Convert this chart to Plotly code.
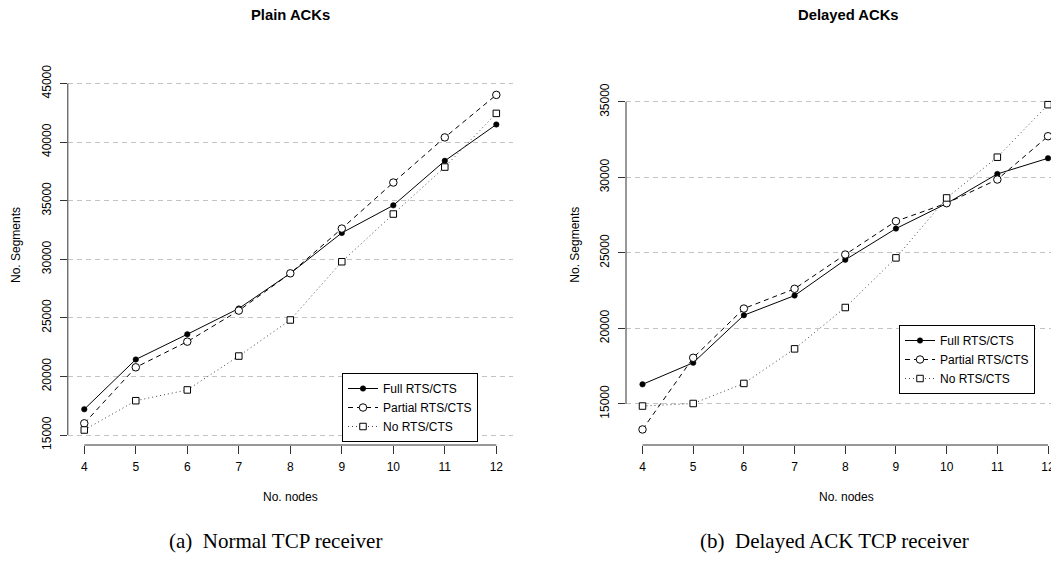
import plotly.graph_objects as go

# ---------------- data ----------------
nodes = [4, 5, 6, 7, 8, 9, 10, 11, 12]

plain_full = [17200, 21450, 23600, 25800, 28800, 32250, 34600, 38400, 41500]
plain_partial = [16000, 20780, 22970, 25620, 28800, 32620, 36550, 40400, 44030]
plain_none = [15430, 17930, 18850, 21740, 24820, 29790, 33860, 37870, 42450]

delayed_full = [16290, 17720, 20870, 22170, 24540, 26610, 28270, 30230, 31270]
delayed_partial = [13300, 18050, 21310, 22620, 24890, 27100, 28290, 29860, 32730]
delayed_none = [14850, 15020, 16350, 18640, 21380, 24670, 28640, 31340, 34820]

series_names = ["Full RTS/CTS", "Partial RTS/CTS", "No RTS/CTS"]
yticks_left = [15000, 20000, 25000, 30000, 35000, 40000, 45000]
yticks_right = [15000, 20000, 25000, 30000, 35000]

titles = ["Plain ACKs", "Delayed ACKs"]
xlabel = "No. nodes"
ylabel = "No. Segments"
captions = ["(a)  Normal TCP receiver", "(b)  Delayed ACK TCP receiver"]

# ---------------- layout helpers ----------------
OFF = 8                        # html body margin
VW, VH = 1059, 561             # browser window
W, H = VW - OFF, VH - 2 * OFF  # keep the page from overflowing vertically
SANS = "Liberation Sans, Arial, Helvetica, sans-serif"
SERIF = "Liberation Serif, Times New Roman, Times, serif"


def px(x):
    """window x pixel -> paper fraction"""
    return (x - OFF) / W


def py(y):
    """window y pixel -> paper fraction"""
    return 1 - (y - OFF) / H


styles = [
    dict(line=dict(color="black", width=1, dash="solid"),
         marker=dict(symbol="circle", size=5.5, color="black",
                     line=dict(color="black", width=0.5))),
    dict(line=dict(color="black", width=1, dash="5px,4px"),
         marker=dict(symbol="circle", size=7.5, color="white",
                     line=dict(color="black", width=1))),
    dict(line=dict(color="#444444", width=1, dash="1px,3px"),
         marker=dict(symbol="square", size=6.5, color="white",
                     line=dict(color="black", width=1))),
]

fig = go.Figure()

panels = [
    ([plain_full, plain_partial, plain_none], "x", "y", "legend"),
    ([delayed_full, delayed_partial, delayed_none], "x2", "y2", "legend2"),
]
for data, xa, ya, lg in panels:
    for name, vals, st in zip(series_names, data, styles):
        fig.add_trace(go.Scatter(
            x=nodes, y=vals, name=name, mode="lines+markers",
            xaxis=xa, yaxis=ya, legend=lg,
            line=st["line"], marker=st["marker"],
        ))

axis_common = dict(
    showgrid=False, zeroline=False, showline=False, automargin=False,
    ticks="outside", tickcolor="#333333", tickwidth=1,
    tickfont=dict(family=SANS, size=12, color="black"),
)
x_common = dict(axis_common, ticklen=8, tickvals=nodes,
                ticktext=[str(n) for n in nodes], ticklabelstandoff=3)


def y_common(ticks):
    return dict(axis_common, ticklen=7, tickvals=ticks,
                ticktext=[str(t) for t in ticks], tickangle=-90,
                showgrid=True, gridcolor="#c4c4c4", gridwidth=1,
                griddash="5px,4px", ticklabelstandoff=4)


# right panel x scale (px per node) so the last column stays inside the window
R_AX, R_SCALE = 626, 50.69
r_start = 4 - (642.5 - R_AX) / R_SCALE
r_end = r_start + (VW - R_AX) / R_SCALE

fig.update_layout(
    template="none",
    width=W, height=H,
    margin=dict(l=0, r=0, t=0, b=0, pad=0, autoexpand=False),
    autosize=False,
    paper_bgcolor="white", plot_bgcolor="white",
    font=dict(family=SANS, size=12, color="black"),
    xaxis=dict(x_common, domain=[px(67.8), px(512.8)], range=[3.68, 12.32], anchor="y"),
    yaxis=dict(y_common(yticks_left), domain=[py(445), py(81.4)],
               range=[14150, 45180], anchor="x"),
    xaxis2=dict(x_common, domain=[px(R_AX), 1.0], range=[r_start, r_end], anchor="y2"),
    yaxis2=dict(y_common(yticks_right), domain=[py(445), py(91.7)],
                range=[12270, 35680], anchor="x2"),
    legend=dict(x=px(342), y=py(373), xanchor="left", yanchor="top",
                bordercolor="black", borderwidth=1, bgcolor="white",
                font=dict(family=SANS, size=12, color="black"),
                tracegroupgap=0),
    legend2=dict(x=px(899), y=py(325), xanchor="left", yanchor="top",
                 bordercolor="black", borderwidth=1, bgcolor="white",
                 font=dict(family=SANS, size=12, color="black"),
                 tracegroupgap=0),
    showlegend=True,
)

# axis lines spanning first to last tick (R style)
shapes = []
for xa, ya, yt in [("x", "y", yticks_left), ("x2", "y2", yticks_right)]:
    shapes.append(dict(type="line", xref=xa, yref=ya + " domain",
                       x0=nodes[0], x1=nodes[-1], y0=0, y1=0,
                       line=dict(color="#333333", width=1)))
    shapes.append(dict(type="line", xref=xa + " domain", yref=ya,
                       x0=0, x1=0, y0=yt[0], y1=yt[-1],
                       line=dict(color="#333333", width=1)))
fig.update_layout(shapes=shapes)

ann = []
for cx, t in zip([290.3, 848.5], titles):
    ann.append(dict(x=px(cx), y=py(15), xref="paper", yref="paper", text="<b>%s</b>" % t,
                    showarrow=False, xanchor="center", yanchor="middle",
                    font=dict(family=SANS, size=14.8, color="black")))
for cx in [290.3, 846.5]:
    ann.append(dict(x=px(cx), y=py(497), xref="paper", yref="paper", text=xlabel,
                    showarrow=False, xanchor="center", yanchor="middle",
                    font=dict(family=SANS, size=12, color="black")))
for cx in [16, 574.7]:
    ann.append(dict(x=px(cx), y=py(245), xref="paper", yref="paper", text=ylabel,
                    showarrow=False, xanchor="center", yanchor="middle", textangle=-90,
                    font=dict(family=SANS, size=12, color="black")))
for cx, t in zip([275.5, 834], captions):
    ann.append(dict(x=px(cx), y=py(541), xref="paper", yref="paper", text=t,
                    showarrow=False, xanchor="center", yanchor="middle",
                    font=dict(family=SERIF, size=21, color="black")))
fig.update_layout(annotations=ann)

fig.write_html("out.html")
